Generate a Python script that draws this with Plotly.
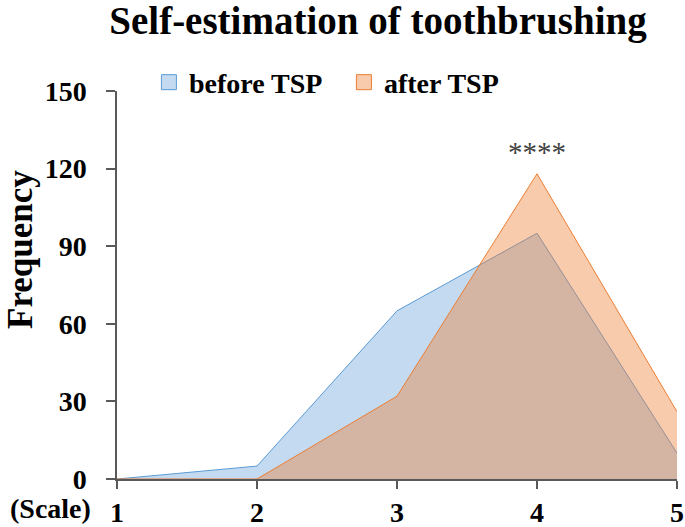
import plotly.graph_objects as go

scale = [1, 2, 3, 4, 5]
before_tsp = [0, 5, 65, 95, 10]
after_tsp = [0, 0, 32, 118, 26]
y_ticks = [0, 30, 60, 90, 120, 150]
title_text = "Self-estimation of toothbrushing"
sig_label = "****"
sig_x = 4
sig_y = 126.5

FONT = "Liberation Serif"
blue_line = "#5b9bd5"
blue_fill = "rgba(91,155,213,0.37)"
orange_line = "#ed7d31"
orange_fill = "rgba(237,125,49,0.40)"
axis_col = "#595959"

fig = go.Figure()
fig.add_trace(go.Scatter(x=scale, y=before_tsp, mode="lines", fill="tozeroy",
                         line=dict(color=blue_line, width=1), fillcolor=blue_fill,
                         showlegend=False, hoverinfo="skip"))
fig.add_trace(go.Scatter(x=scale, y=after_tsp, mode="lines", fill="tozeroy",
                         line=dict(color=orange_line, width=1), fillcolor=orange_fill,
                         showlegend=False, hoverinfo="skip"))
# legend entries (square swatches)
fig.add_trace(go.Scatter(x=[None], y=[None], mode="markers", name="before TSP",
                         marker=dict(symbol="square", size=15, color=blue_fill,
                                     line=dict(color=blue_line, width=1))))
fig.add_trace(go.Scatter(x=[None], y=[None], mode="markers", name="after TSP",
                         marker=dict(symbol="square", size=15, color=orange_fill,
                                     line=dict(color=orange_line, width=1))))

fig.update_layout(
    width=685, height=527,
    margin=dict(l=117, r=8, t=91, b=48, autoexpand=False),
    paper_bgcolor="white", plot_bgcolor="white",
    font=dict(family=FONT, color="black"),
    title=dict(text="<b>%s</b>" % title_text, font=dict(size=39, family=FONT, color="black"),
               x=378 / 685, xref="container", xanchor="center",
               y=1 - 20 / 527, yref="container", yanchor="middle", automargin=False),
    legend=dict(orientation="h", x=0.057, xanchor="left", y=1.022, yanchor="middle",
                font=dict(size=28, family=FONT, color="black", weight="bold"),
                bgcolor="rgba(0,0,0,0)", entrywidth=150, entrywidthmode="pixels",
                itemsizing="trace"),
    xaxis=dict(range=[1, 5], tickvals=scale, ticktext=[str(s) for s in scale],
               showline=True, linecolor=axis_col, linewidth=1.5,
               ticks="outside", tickcolor=axis_col, ticklen=8, tickwidth=1.5,
               showgrid=False, zeroline=False, automargin=False,
               tickfont=dict(size=28, family=FONT, color="black", weight="bold"),
               ticklabelstandoff=0),
    yaxis=dict(range=[0, 150], tickvals=y_ticks,
               showline=True, linecolor=axis_col, linewidth=1.5,
               ticks="outside", tickcolor=axis_col, ticklen=9, tickwidth=1.5,
               showgrid=False, zeroline=False, automargin=False,
               tickfont=dict(size=28, family=FONT, color="black", weight="bold"),
               ticklabelstandoff=14),
)

fig.add_annotation(text="<b>Frequency</b>", textangle=-90, xref="paper", yref="paper",
                   x=(20 - 117) / 560, y=(479 - 250) / 388, xanchor="center", yanchor="middle",
                   showarrow=False, font=dict(size=35, family=FONT, color="black"))
fig.add_annotation(text="<b>(Scale)</b>", xref="paper", yref="paper",
                   x=(50 - 117) / 560, y=(479 - 508) / 388, xanchor="center", yanchor="middle",
                   showarrow=False, font=dict(size=28, family=FONT, color="black"))
fig.add_annotation(text=sig_label, x=sig_x, y=sig_y, xref="x", yref="y",
                   xanchor="center", yanchor="middle", showarrow=False,
                   font=dict(size=29, family=FONT, color="#404040"))

fig.write_html("out.html", config={"displayModeBar": False},
               post_script="document.body.style.margin='0';")
